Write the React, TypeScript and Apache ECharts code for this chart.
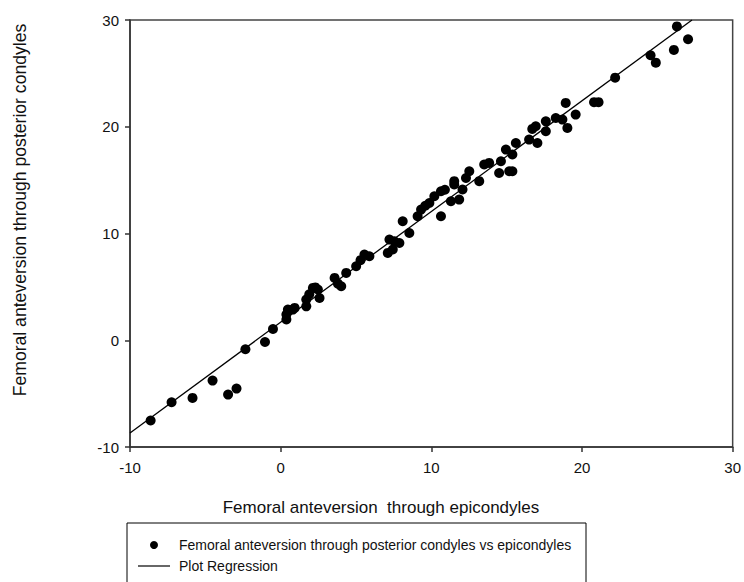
import React, { useEffect, useRef } from "react";
import * as echarts from "echarts";

const epicondyles: number[] = [
  -8.63, -7.24, -5.85, -4.52, -3.49, -2.93, -2.34, -1.04, -0.51, 0.38,
  0.81, 0.38, 0.48, 0.93, 1.7, 2.14, 2.58, 1.7, 2.47, 1.9,
  2.3, 3.58, 4.02, 3.8, 4.35, 5.01, 5.56, 5.89, 5.3, 7.11,
  7.22, 7.55, 7.44, 7.88, 8.1, 8.54, 9.09, 9.32, 9.87, 10.2,
  10.64, 10.64, 11.3, 11.85, 11.52, 12.07, 11.52, 12.52, 13.18, 13.51,
  13.84, 14.5, 15.17, 15.38, 14.62, 14.95, 15.61, 15.38, 16.49, 16.93,
  17.04, 17.6, 17.6, 18.26, 18.7, 19.03, 18.92, 19.58, 20.8, 21.1,
  22.2, 24.55, 24.9, 26.1, 26.3, 27.04, 9.6, 10.9, 12.3, 16.7,
];
const posteriorCondyles: number[] = [
  -7.52, -5.81, -5.4, -3.78, -5.09, -4.53, -0.84, -0.16, 1.05, 2.41,
  2.87, 1.94, 2.87, 3.03, 3.81, 4.9, 3.96, 3.18, 4.75, 4.3,
  4.95, 5.84, 5.06, 5.3, 6.31, 6.93, 8.03, 7.87, 7.5, 8.18,
  9.43, 9.27, 8.5, 9.11, 11.15, 10.05, 11.62, 12.24, 12.86, 13.49,
  13.96, 11.62, 13.02, 13.18, 14.59, 14.12, 14.9, 15.83, 14.9, 16.46,
  16.61, 15.67, 15.83, 15.83, 16.77, 17.86, 18.48, 17.4, 18.8, 20.05,
  18.48, 19.58, 20.51, 20.82, 20.67, 19.89, 22.23, 21.14, 22.3, 22.3,
  24.6, 26.7, 26.0, 27.2, 29.4, 28.2, 12.6, 14.1, 15.2, 19.8,
];
const regressionX: number[] = [-10, 27.3];
const regressionY: number[] = [-8.68, 30];
const axisTicks: number[] = [-10, 0, 10, 20, 30];

const scatterName = "Femoral anteversion through posterior condyles vs epicondyles";
const lineName = "Plot Regression";
const xTitle = "Femoral anteversion  through epicondyles";
const yTitle = "Femoral anteversion through posterior condyles";

const FONT = "'Liberation Sans', Arial, sans-serif";

export default function App() {
  const ref = useRef<HTMLDivElement>(null);
  useEffect(() => {
    if (!ref.current) return;
    const chart = echarts.init(ref.current, undefined, { renderer: "svg" });
    const pts = epicondyles.map((x, i) => [x, posteriorCondyles[i]]);
    const reg = regressionX.map((x, i) => [x, regressionY[i]]);
    const axisCommon = {
      type: "value" as const,
      min: axisTicks[0],
      max: axisTicks[axisTicks.length - 1],
      interval: 10,
      splitLine: { show: false },
      axisLine: { show: true, onZero: false, lineStyle: { color: "#333", width: 1.5 } },
      axisTick: { show: true, inside: false, length: 5, lineStyle: { color: "#333", width: 1.5 } },
      axisLabel: { color: "#111", fontSize: 15, fontFamily: FONT },
    };
    chart.setOption({
      animation: false,
      backgroundColor: "#fff",
      textStyle: { fontFamily: FONT },
      grid: {
        left: 130,
        right: 11,
        top: 20,
        bottom: 135,
        show: true,
        borderColor: "#444",
        borderWidth: 1.5,
        containLabel: false,
      },
      xAxis: { ...axisCommon, axisLabel: { ...axisCommon.axisLabel, margin: 13 } },
      yAxis: { ...axisCommon, axisLabel: { ...axisCommon.axisLabel, margin: 11 } },
      legend: {
        orient: "vertical",
        left: 138,
        top: 538,
        padding: 0,
        itemGap: 7,
        itemWidth: 32,
        itemHeight: 8,
        textStyle: { color: "#111", fontSize: 14, fontFamily: FONT, padding: [0, 0, 0, 4] },
        data: [
          { name: scatterName, icon: "circle" },
          { name: lineName, icon: "path://M0,0H32V1.2H0Z" },
        ],
      },
      graphic: [
        {
          type: "rect",
          shape: { x: 127, y: 523, width: 459, height: 90 },
          style: { fill: "none", stroke: "#000", lineWidth: 1 },
        },
        {
          type: "text",
          x: 381,
          y: 507,
          style: {
            text: xTitle,
            fill: "#111",
            font: `17px ${FONT}`,
            textAlign: "center",
            textVerticalAlign: "middle",
          },
        },
        {
          type: "text",
          x: 20,
          y: 210,
          rotation: Math.PI / 2,
          style: {
            text: yTitle,
            fill: "#111",
            font: `17.6px ${FONT}`,
            textAlign: "center",
            textVerticalAlign: "middle",
          },
        },
      ],
      series: [
        {
          name: scatterName,
          type: "scatter",
          data: pts,
          symbol: "circle",
          symbolSize: 10,
          itemStyle: { color: "#000", opacity: 1 },
        },
        {
          name: lineName,
          type: "line",
          data: reg,
          symbol: "none",
          showSymbol: false,
          lineStyle: { color: "#000", width: 1.3 },
          itemStyle: { color: "#000" },
          z: 3,
        },
      ],
    });
    return () => chart.dispose();
  }, []);
  return (
    <div
      ref={ref}
      style={{ position: "fixed", left: 0, top: 0, width: 744, height: 582, background: "#fff" }}
    />
  );
}
